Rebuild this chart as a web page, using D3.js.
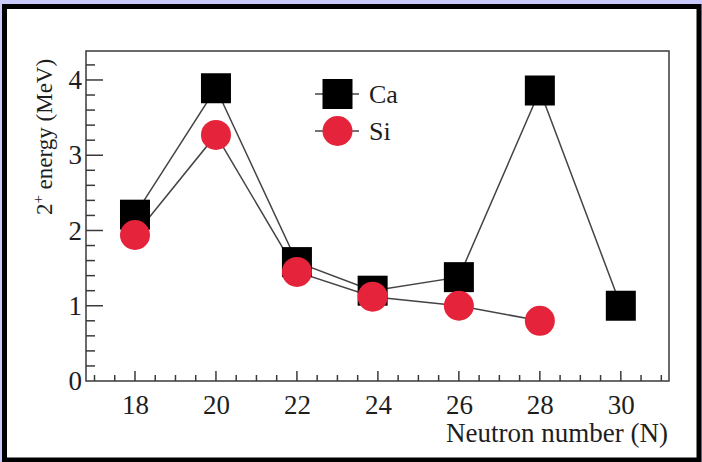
<!DOCTYPE html>
<html><head><meta charset="utf-8">
<script src="https://cdn.jsdelivr.net/npm/d3@7"></script>
<style>
html,body{margin:0;padding:0;background:#c9c9fb;}
svg{display:block;}
</style></head>
<body>
<script>
const neutronsCa = [18, 20, 22, 23.87, 26, 28, 30];
const energyCa   = [2.21, 3.89, 1.58, 1.20, 1.38, 3.86, 1.00];
const neutronsSi = [18, 20, 22, 23.87, 26, 28];
const energySi   = [1.94, 3.27, 1.45, 1.12, 1.00, 0.80];
const xTicks = [18, 20, 22, 24, 26, 28, 30];
const yTicks = [0, 1, 2, 3, 4];
const seriesNames = ["Ca", "Si"];

const W = 702, H = 462;
const svg = d3.select("body").append("svg").attr("width", W).attr("height", H);
svg.append("rect").attr("x",0).attr("y",0).attr("width",W).attr("height",H).attr("fill","#c9c9fb");
svg.append("rect").attr("x",4.5).attr("y",6.5).attr("width",W-4.5-3).attr("height",H-6.5-2)
  .attr("fill","#fff").attr("stroke","#000").attr("stroke-width",5);

const L = 86, R = 669, T = 51, B = 381;
const x = d3.scaleLinear().domain([16.79, 31.19]).range([L, R]);
const y = d3.scaleLinear().domain([0, 4.385]).range([B, T]);
const axisColor = "#3a3a3a";
const font = "'Liberation Serif','Times New Roman',serif";
const textColor = "#1e1e1e";

svg.append("rect").attr("x",L).attr("y",T).attr("width",R-L).attr("height",B-T)
  .attr("fill","none").attr("stroke",axisColor).attr("stroke-width",1.5);

const xMinor = d3.range(17, 31.01, 0.5);
svg.append("g").selectAll("line").data(xMinor).join("line")
  .attr("x1", d => x(d)).attr("x2", d => x(d))
  .attr("y1", B).attr("y2", d => Number.isInteger(d/2) ? B-10 : B-6)
  .attr("stroke", axisColor).attr("stroke-width", 1.5);
const yMinor = d3.range(0.2, 4.39, 0.2);
svg.append("g").selectAll("line").data(yMinor).join("line")
  .attr("y1", d => y(d)).attr("y2", d => y(d))
  .attr("x1", L).attr("x2", d => Math.abs(d - Math.round(d)) < 1e-6 ? L+17 : L+9)
  .attr("stroke", axisColor).attr("stroke-width", 1.5);

const xAxis = svg.append("g").attr("transform", `translate(0,${B})`)
  .call(d3.axisBottom(x).tickValues(xTicks).tickSize(0).tickPadding(14).tickFormat(d3.format("d")));
xAxis.select(".domain").remove();
xAxis.selectAll("text").attr("font-family", font).attr("font-size", 27).attr("fill", textColor);

const yAxis = svg.append("g").attr("transform", `translate(${L},0)`)
  .call(d3.axisLeft(y).tickValues(yTicks).tickSize(0).tickPadding(4).tickFormat(d3.format("d")));
yAxis.select(".domain").remove();
yAxis.selectAll("text").attr("font-family", font).attr("font-size", 27).attr("fill", textColor);

svg.append("text").attr("x", 668).attr("y", 442).attr("text-anchor","end")
  .attr("font-family", font).attr("font-size", 27).attr("fill", textColor)
  .text("Neutron number (N)");
const yl = svg.append("text").attr("transform","translate(52,137) rotate(-90)")
  .attr("text-anchor","middle").attr("font-family", font).attr("font-size", 23).attr("fill", textColor);
yl.append("tspan").text("2");
yl.append("tspan").attr("dy",-9).attr("font-size",15).text("+");
yl.append("tspan").attr("dy",9).text(" energy (MeV)");

const line = d3.line().x(d => x(d[0])).y(d => y(d[1]));
const caData = neutronsCa.map((n,i) => [n, energyCa[i]]);
const siData = neutronsSi.map((n,i) => [n, energySi[i]]);
svg.append("path").attr("d", line(caData)).attr("fill","none").attr("stroke","#444").attr("stroke-width",1.5);
svg.append("path").attr("d", line(siData)).attr("fill","none").attr("stroke","#444").attr("stroke-width",1.5);

const S = 30, red = "#e5233a";
svg.append("g").selectAll("rect").data(caData).join("rect")
  .attr("x", d => x(d[0]) - S/2).attr("y", d => y(d[1]) - S/2)
  .attr("width", S).attr("height", S).attr("fill","#000");
svg.append("g").selectAll("circle").data(siData).join("circle")
  .attr("cx", d => x(d[0])).attr("cy", d => y(d[1])).attr("r", 15).attr("fill", red);

const lg = svg.append("g");
const legY = [94, 131];
lg.selectAll("line").data(legY).join("line")
  .attr("x1", 315).attr("x2", 359).attr("y1", d => d).attr("y2", d => d)
  .attr("stroke","#444").attr("stroke-width",1.5);
lg.append("rect").attr("x", 337.5 - S/2).attr("y", legY[0] - S/2).attr("width", S).attr("height", S).attr("fill","#000");
lg.append("circle").attr("cx", 337.5).attr("cy", legY[1]).attr("r", 15).attr("fill", red);
lg.selectAll("text").data(seriesNames).join("text")
  .attr("x", 369).attr("y", (d,i) => legY[i] + 9)
  .attr("font-family", font).attr("font-size", 26).attr("fill", textColor).text(d => d);
</script>
</body></html>
